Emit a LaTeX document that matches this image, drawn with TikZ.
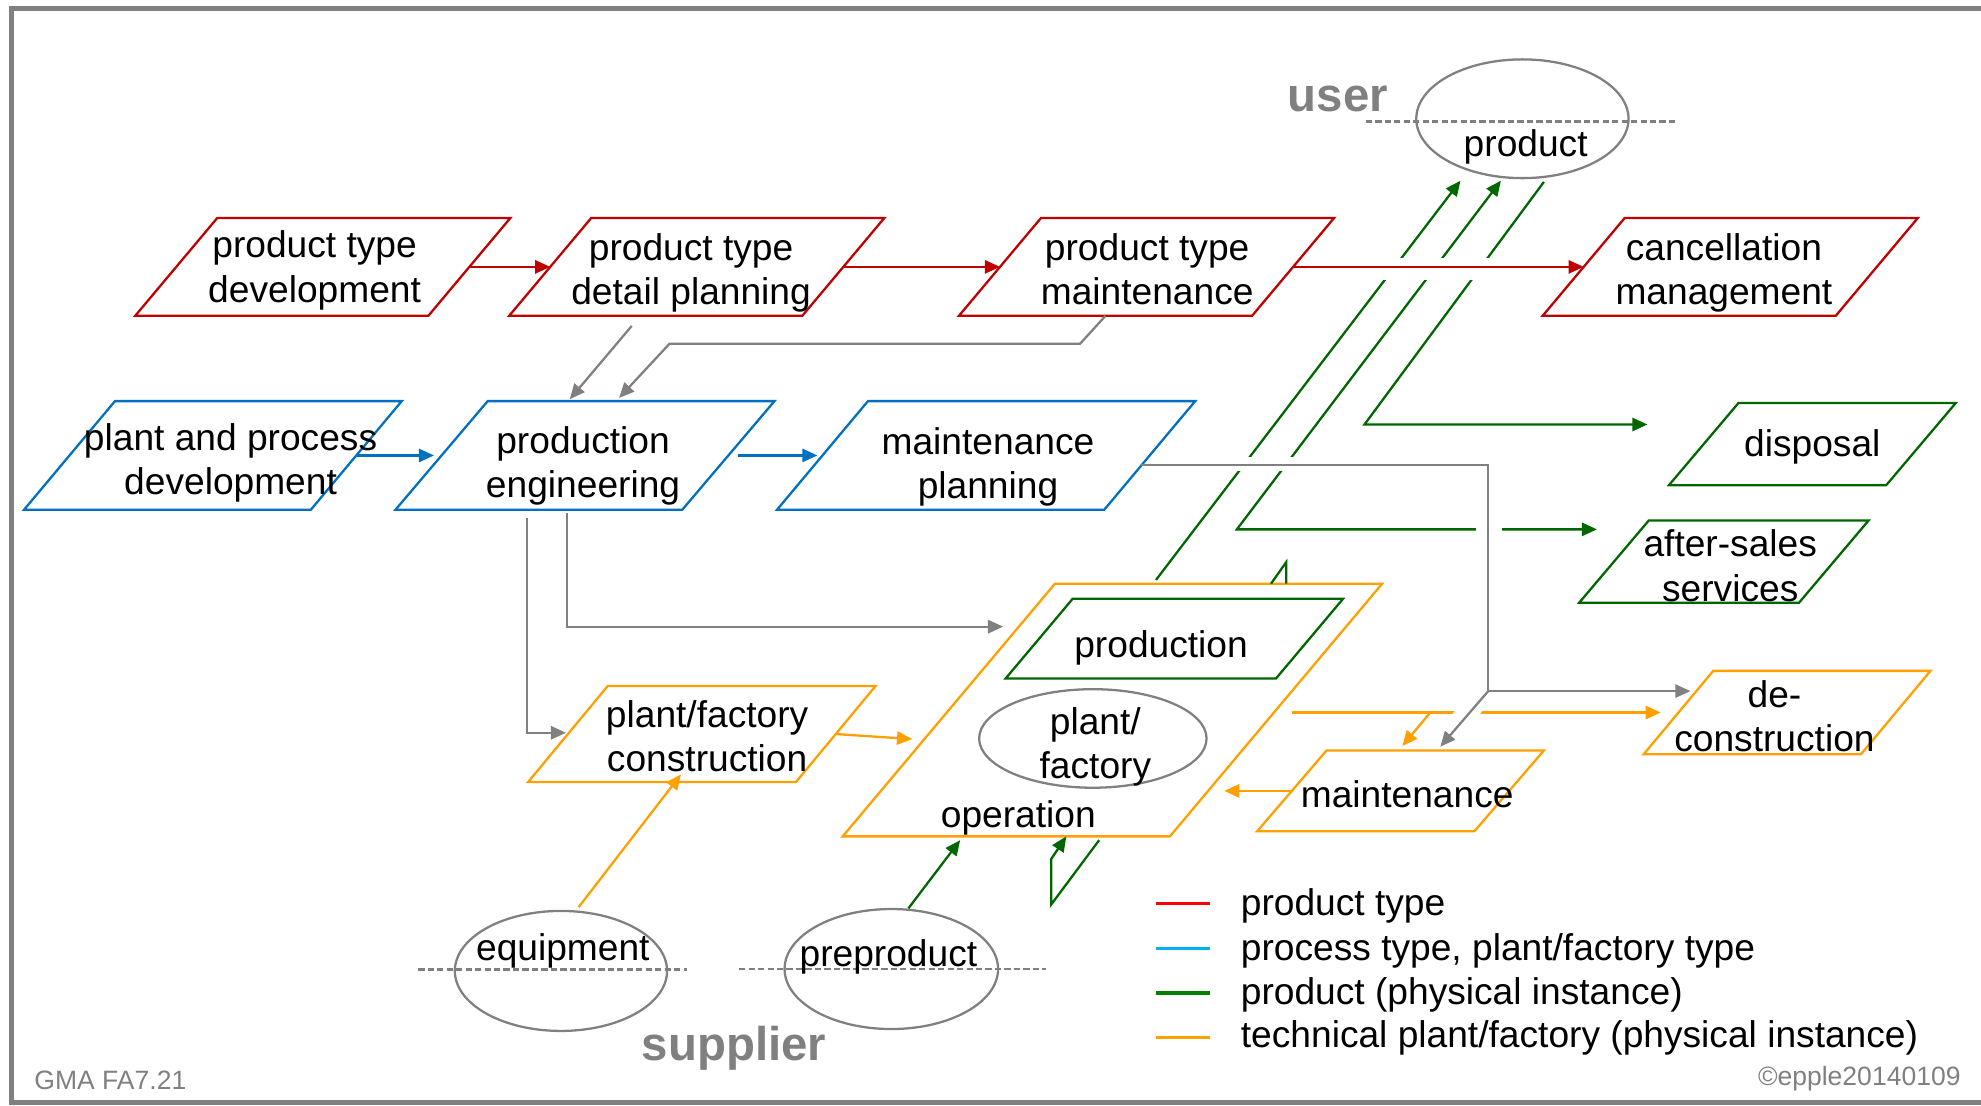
\documentclass[tikz,border=0pt]{standalone}
\usepackage{fontspec}
\setmainfont{Liberation Sans}
\usetikzlibrary{arrows.meta,calc,shapes.geometric}

\definecolor{ptred}{RGB}{192,0,0}
\definecolor{ptblue}{RGB}{0,112,192}
\definecolor{pigreen}{RGB}{0,102,0}
\definecolor{tporange}{RGB}{255,160,0}
\definecolor{frame}{RGB}{128,128,128}
\definecolor{legred}{RGB}{255,0,0}
\definecolor{legblue}{RGB}{0,176,240}
\definecolor{leggreen}{RGB}{0,128,0}

% parallelogram: colour, name, top-left x, top y, width, height, slant
\newcommand\drawpgram[7]{%
  \draw[pbox,#1] (#3,#4) coordinate (#2-tl) -- ++(#5,0) coordinate (#2-tr)
    -- ++(-#7,#6) coordinate (#2-br) -- ++(-#5,0) coordinate (#2-bl) -- cycle;
  \coordinate (#2-l) at ($(#2-tl)!0.5!(#2-bl)$);
  \coordinate (#2-r) at ($(#2-tr)!0.5!(#2-br)$);
  \coordinate (#2-b) at ($(#2-bl)!0.5!(#2-br)$);
}

\begin{document}
\begin{tikzpicture}[x=1pt,y=-1pt,
  pbox/.style={line width=1.8pt},
  lab/.style={font=\fontsize{29.4}{35}\selectfont, align=center, inner sep=0pt, text=black},
  conn/.style={line width=1.8pt},
  arrowhd/.style={-{Triangle[length=12pt,width=10.5pt]}},
  twoheads/.style={{Triangle[length=12pt,width=10.5pt]}-{Triangle[length=12pt,width=10.5pt]}},
  cutgap/.style={draw=white, line width=#1},
  oval/.style={draw=frame, line width=1.8pt, ellipse, inner sep=0pt},
  divider/.style={draw=frame, line width=2pt, dash pattern=on 5pt off 2.5pt},
  leg/.style={line width=2.6pt},
  legtxt/.style={font=\fontsize{29.4}{35}\selectfont, anchor=west, inner sep=0pt, text height=22pt, text depth=6.5pt},
  role/.style={font=\fontsize{37.5}{40}\bfseries\selectfont, text=frame, inner sep=0pt},
  footnote/.style={font=\fontsize{21}{24}\selectfont, text=frame, inner sep=0pt}
]
\useasboundingbox (0,0) rectangle (1568,875);

% outer frame
\draw[frame, line width=4pt] (1568,6.5) -- (9,6.5) -- (9,872.5) -- (1568,872.5);

% type level boxes
\drawpgram{ptred}{ptd}{172}{172.5}{232}{77.5}{65}
\drawpgram{ptred}{ptdp}{468}{172.5}{232}{77.5}{65}
\drawpgram{ptred}{ptm}{824}{172.5}{232}{77.5}{65}
\drawpgram{ptred}{cm}{1286}{172.5}{232}{77.5}{65}
\drawpgram{ptblue}{ppd}{91}{317.5}{227}{86}{72}
\drawpgram{ptblue}{pe}{386}{317.5}{227}{86}{73}
\drawpgram{ptblue}{mp}{687}{317.5}{259}{86}{72}

% instance level boxes
\drawpgram{pigreen}{disp}{1376}{319}{172}{65}{55}
\drawpgram{pigreen}{asv}{1305}{412}{174}{65}{55}
\drawpgram{tporange}{oper}{835}{462}{259}{200}{168}
\drawpgram{pigreen}{prod}{849}{474}{214}{63}{53}
\drawpgram{tporange}{pfc}{481}{543}{212}{76}{63}
\drawpgram{tporange}{mnt}{1050}{594}{172}{64}{55}
\drawpgram{tporange}{dcon}{1356}{531}{172}{66}{55}

% ovals
\node[oval, minimum width=168pt, minimum height=94pt] (userov) at (1205,94) {};
\node[oval, minimum width=180pt, minimum height=78pt] (plantov) at (865,584.5) {};
\node[oval, minimum width=168pt, minimum height=95pt] (equipov) at (444,768.5) {};
\node[oval, minimum width=169pt, minimum height=95pt] (preov) at (705.5,767) {};

% boundary lines user / supplier
\draw[divider] (1081,96) -- (1328,96);
\draw[divider] (331,767.5) -- (544,767.5);
\draw[divider] (585,767) -- (828,767);

% labels
\node[lab] (ptd) at (249,214) {product type\\development};
\node[lab] (ptdp) at (547,216) {product type\\detail planning};
\node[lab] (ptm) at (908,213) {product type\\maintenance};
\node[lab] (cm) at (1364.5,216) {cancellation\\management};
\node[lab] (ppd) at (182.5,366.5) {plant and process\\development};
\node[lab] (pe) at (461.5,368.5) {production\\engineering};
\node[lab] (mp) at (782,369.5) {maintenance\\planning};
\node[lab] (disp) at (1434.5,354) {disposal};
\node[lab] (asv) at (1369.5,447.7) {after-sales\\services};
\node[lab] (prod) at (919,512.5) {production};
\node[lab] (plant) at (867,591) {plant/\\factory};
\node[lab] (oper) at (806,647) {operation};
\node[lab] (pfc) at (559.7,583) {plant/factory\\construction};
\node[lab] (mnt) at (1113.8,629) {maintenance};
\node[lab] (dcon) at (1404.5,567.2) {de-\\construction};
\node[lab] (product) at (1207.6,116.6) {product};
\node[lab] (equip) at (445.5,752.4) {equipment};
\node[lab] (pre) at (703.2,757.2) {preproduct};
\node[role] (userlbl) at (1059,78) {user};
\node[role] (supplbl) at (581,830) {supplier};

% free ends and bends of the connectors
\coordinate (g1a) at (500,258);    \coordinate (g1b) at (451,316);
\coordinate (g2b) at (490,315);
\coordinate (g3a) at (417,410);    \coordinate (g3b) at (448,580);
\coordinate (g4a) at (449,406);    \coordinate (g4b) at (794,496);
\coordinate (g5a) at (903.5,368);  \coordinate (g5k) at (1178,547);
\coordinate (g5b) at (1338,547);   \coordinate (g5c) at (1140,591);
\coordinate (gra) at (915,459);    \coordinate (grat) at (1156,143);
\coordinate (grbt) at (1188,143);  \coordinate (grbk) at (979,419);
\coordinate (grbe) at (1264,419);
\coordinate (grct) at (1222,144);  \coordinate (grck) at (1080,336);
\coordinate (grce) at (1304,336);
\coordinate (grda) at (719,719);   \coordinate (grdb) at (760,665);
\coordinate (grea) at (870,665);   \coordinate (greb) at (844,662);
\coordinate (grfa) at (1006,462);  \coordinate (grfb) at (1018,462);
\coordinate (or1a) at (458,718);   \coordinate (or1b) at (539,613);
\coordinate (or2b) at (722,585);
\coordinate (or3a) at (1023,564);  \coordinate (or3b) at (1314.5,564);
\coordinate (or3k) at (1132,564);  \coordinate (or3c) at (1110,590.5);
\coordinate (or4b) at (969,626);

% physical product flows
\draw[conn, pigreen, arrowhd] (gra) -- (grat);
\draw[conn, pigreen, twoheads] (grbt) -- (grbk) -- (grbe);
\draw[conn, pigreen, arrowhd] (grct) -- (grck) -- (grce);
\draw[conn, pigreen, arrowhd] (grda) -- (grdb);
\draw[conn, pigreen, arrowhd] (grea) -- (832,716) -- (832,680) -- (greb);
\draw[conn, pigreen] (grfa) -- (1018,445) -- (grfb);

% physical plant flows
\draw[conn, tporange, arrowhd] (or1a) -- (or1b);
\draw[conn, tporange, arrowhd] (pfc-r) -- (or2b);
\draw[conn, tporange, arrowhd] (or3a) -- (or3b);
\draw[conn, tporange, arrowhd] (or3k) -- (or3c);
\draw[conn, tporange, arrowhd] (mnt-l) -- (or4b);

% breaks where lines pass underneath
\draw[cutgap=17pt] (1088,213) -- (1187,213);
\draw[cutgap=11pt] (968,367.5) -- (1036,367.5);
\draw[cutgap=21pt] (1178.5,404) -- (1178.5,434);
\draw[cutgap=17pt] (1168.6,555) -- (1154.3,573);

% type flows
\draw[conn, ptred, arrowhd] (ptd-r) -- (ptdp-l);
\draw[conn, ptred, arrowhd] (ptdp-r) -- (ptm-l);
\draw[conn, ptred, arrowhd] (ptm-r) -- (cm-l);
\draw[conn, ptblue, arrowhd, shorten >=6pt] (ppd-r) -- (pe-l);
\draw[conn, ptblue, arrowhd, shorten <=8pt, shorten >=4pt] (pe-r) -- (mp-l);

% information flows
\draw[conn, frame, arrowhd] (g1a) -- (g1b);
\draw[conn, frame, arrowhd] (ptm-b) -- (855,272) -- (530,272) -- (g2b);
\draw[conn, frame, arrowhd] (g3a) -- (417,580) -- (g3b);
\draw[conn, frame, arrowhd] (g4a) -- (449,496) -- (g4b);
\draw[conn, frame, arrowhd] (g5a) -- (1178,368) -- (g5k) -- (g5b);
\draw[conn, frame, arrowhd] (g5k) -- (g5c);

% legend
\draw[leg, legred] (915,715) -- (958,715);
\draw[leg, legblue] (915,751) -- (958,751);
\draw[leg, leggreen] (915,786) -- (958,786);
\draw[leg, tporange] (915,821) -- (958,821);
\node[legtxt] (l1) at (982,717.2) {product type};
\node[legtxt] (l2) at (982,752.4) {process type, plant/factory type};
\node[legtxt] (l3) at (982,787.2) {product (physical instance)};
\node[legtxt] (l4) at (982,821.5) {technical plant/factory (physical instance)};

% footer
\node[footnote, anchor=west] (gma) at (27,855) {GMA FA7.21};
\node[footnote, anchor=east] (copy) at (1552,853.5) {©epple20140109};
\end{tikzpicture}
\end{document}
